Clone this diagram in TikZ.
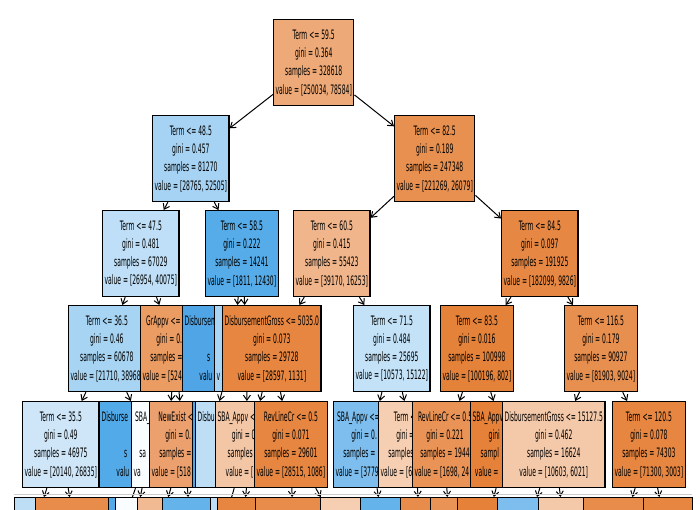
\documentclass[tikz,border=0pt]{standalone}
\usepackage{fontspec}
\newfontfamily\treefont[FakeStretch=0.465]{DejaVu Sans}
\usetikzlibrary{arrows.meta,backgrounds}

\definecolor{c595}{RGB}{237,169,119}
\definecolor{c485}{RGB}{166,211,243}
\definecolor{c825}{RGB}{232,144,80}
\definecolor{c475}{RGB}{190,223,247}
\definecolor{c585}{RGB}{86,171,233}
\definecolor{c605}{RGB}{240,181,139}
\definecolor{c845}{RGB}{230,136,68}
\definecolor{c365}{RGB}{167,212,243}
\definecolor{cgr}{RGB}{234,156,99}
\definecolor{cdis}{RGB}{80,165,230}
\definecolor{clb}{RGB}{170,213,244}
\definecolor{c5035}{RGB}{230,134,65}
\definecolor{c715}{RGB}{195,226,247}
\definecolor{c835}{RGB}{229,130,58}
\definecolor{c1165}{RGB}{231,143,79}
\definecolor{c355}{RGB}{206,230,248}
\definecolor{cdisb}{RGB}{83,170,232}
\definecolor{csba}{RGB}{250,253,255}
\definecolor{cnew}{RGB}{235,160,110}
\definecolor{cstrip}{RGB}{80,165,230}
\definecolor{cdisbu}{RGB}{190,222,246}
\definecolor{csbaa}{RGB}{243,198,166}
\definecolor{crev}{RGB}{230,134,65}
\definecolor{csbab}{RGB}{125,190,238}
\definecolor{cterm}{RGB}{246,207,178}
\definecolor{crevb}{RGB}{233,147,86}
\definecolor{csbac}{RGB}{229,129,57}
\definecolor{c15127}{RGB}{244,201,170}
\definecolor{c1205}{RGB}{230,134,65}
\definecolor{cleafo}{RGB}{231,140,75}
\definecolor{cleafp}{RGB}{241,186,146}
\definecolor{cleafb}{RGB}{100,180,235}
\definecolor{frame}{RGB}{205,205,205}

\begin{document}
\begin{tikzpicture}[x=1pt,y=-1pt,semithick]
  \tikzset{
    treenode/.style={draw=black, line width=1.2pt, anchor=north west, align=center,
      minimum height=86pt, inner xsep=2pt, inner ysep=0pt,
      font=\treefont\fontsize{13}{18.3}\selectfont},
    leafnode/.style={treenode, minimum width=#1},
    treearrow/.style={-{Straight Barb[length=5pt,width=7pt]}, line width=1pt}
  }
  \useasboundingbox (0,0) rectangle (700,510);

  % depth 0 and 1
  \node[treenode, fill=c595] (n595) at (273,19) {Term <= 59.5\\gini = 0.364\\samples = 328618\\value = [250034, 78584]};
  \node[treenode, fill=c485] (n485) at (152,115) {Term <= 48.5\\gini = 0.457\\samples = 81270\\value = [28765, 52505]};
  \node[treenode, fill=c825] (n825) at (394,115) {Term <= 82.5\\gini = 0.189\\samples = 247348\\value = [221269, 26079]};

  % depth 2
  \node[treenode, fill=c475] (n475) at (102,210) {Term <= 47.5\\gini = 0.481\\samples = 67029\\value = [26954, 40075]};
  \node[treenode, fill=c585] (n585) at (205,210) {Term <= 58.5\\gini = 0.222\\samples = 14241\\value = [1811, 12430]};
  \node[treenode, fill=c605] (n605) at (293,210) {Term <= 60.5\\gini = 0.415\\samples = 55423\\value = [39170, 16253]};
  \node[treenode, fill=c845] (n845) at (501,210) {Term <= 84.5\\gini = 0.097\\samples = 191925\\value = [182099, 9826]};

  % depth 3 (boxes overlap, later ones cover earlier ones)
  \node[treenode, fill=c365] (n365) at (68,305) {Term <= 36.5\\gini = 0.46\\samples = 60678\\value = [21710, 38968\phantom{]}};
  \node[treenode, fill=cgr] (ngr) at (140,305) {GrAppv <=\phantom{ 1234.5}\\gini = 0.\phantom{288}\\samples =\phantom{ 6351}\\value = [524\phantom{4, 1107]}};
  \node[treenode, fill=cdis] (ndis) at (182,305) {Disbursem\phantom{entGross <= 99999.5}\\\phantom{gini = 0.123}\\s\phantom{amples = 12345}\\valu\phantom{e = [1234, 12345]}};
  \node[treenode, fill=clb] (nlb) at (214,305) {\phantom{Term <= 99.5}\\\phantom{gini = 0.123}\\\phantom{samples = 1234}\\v\phantom{alue = [123, 1234]}};
  \node[treenode, fill=c5035] (n5035) at (222,305) {DisbursementGross <= 5035.0\\gini = 0.073\\samples = 29728\\value = [28597, 1131]};
  \node[treenode, fill=c715] (n715) at (353,305) {Term <= 71.5\\gini = 0.484\\samples = 25695\\value = [10573, 15122]};
  \node[treenode, fill=c835] (n835) at (440,305) {Term <= 83.5\\gini = 0.016\\samples = 100998\\value = [100196, 802]};
  \node[treenode, fill=c1165] (n1165) at (564,305) {Term <= 116.5\\gini = 0.179\\samples = 90927\\value = [81903, 9024]};

  % depth 4
  \node[treenode, fill=c355] (n355) at (22,401) {Term <= 35.5\\gini = 0.49\\samples = 46975\\value = [20140, 26835]};
  \node[treenode, fill=cdisb] (ndisb) at (99,401) {Disburse\phantom{mentGross <= 99999.5}\\\phantom{gini = 0.123}\\s\phantom{amples = 13703}\\valu\phantom{e = [1570, 12133]}};
  \node[treenode, fill=csba] (nsba) at (131,401) {SBA\_\phantom{Appv <= 9999.5}\\\phantom{gini = 0.123}\\sa\phantom{mples = 123456}\\va\phantom{lue = [1234, 12345]}};
  \node[treenode, fill=cnew] (nnew) at (149,401) {NewExist <\phantom{= 0.5}\\gini = 0.\phantom{123}\\samples =\phantom{ 1234}\\value = [518\phantom{3, 1234]}};
  \node[treenode, fill=cstrip, minimum width=30pt] (nstrip) at (192,401) {};
  \node[treenode, fill=cdisbu] (ndisbu) at (195,401) {Disbu\phantom{rsementGross <= 99999.5}\\\phantom{gini = 0.123}\\\phantom{samples = 12345}\\\phantom{value = [1234, 12345]}};
  \node[treenode, fill=csbaa] (nsbaa) at (215,401) {SBA\_Appv <\phantom{= 9999.5}\\gini = 0\phantom{.458}\\samples\phantom{ = 127}\\value = [\phantom{82, 45]}};
  \node[treenode, fill=crev] (nrev) at (254,401) {RevLineCr <= 0.5\\gini = 0.071\\samples = 29601\\value = [28515, 1086]};
  \node[treenode, fill=csbab] (nsbab) at (333,401) {SBA\_Appv <=\phantom{ 9999.5}\\gini = 0.\phantom{123}\\samples =\phantom{ 12345}\\value = [3779\phantom{, 12345]}};
  \node[treenode, fill=cterm] (nterm) at (378,401) {Term <\phantom{= 12.5}\\gini =\phantom{ 0.123}\\samples\phantom{ = 12345}\\value = [6\phantom{794, 12345]}};
  \node[treenode, fill=crevb] (nrevb) at (412,401) {RevLineCr <= 0.5\\gini = 0.221\\samples = 1944\\value = [1698, 24\phantom{6]}};
  \node[treenode, fill=csbac] (nsbac) at (470,401) {SBA\_Appv\phantom{ <= 99999.5}\\gini\phantom{ = 0.011}\\sampl\phantom{es = 99054}\\value =\phantom{ [98498, 556]}};
  \node[treenode, fill=c15127] (n15127) at (502,401) {DisbursementGross <= 15127.5\\gini = 0.462\\samples = 16624\\value = [10603, 6021]};
  \node[treenode, fill=c1205] (n1205) at (612,401) {Term <= 120.5\\gini = 0.078\\samples = 74303\\value = [71300, 3003]};

  % depth 5, only the tops show
  \draw[frame, line width=1pt] (14,494) -- (692,494);
  \node[leafnode=31pt, fill=cdisbu] (m1) at (14,497) {};
  \node[leafnode=83pt, fill=cleafo] (m2) at (35,497) {};
  \node[leafnode=17pt, fill=cdisb] (m3) at (108,497) {};
  \node[leafnode=32pt, fill=csba] (m4) at (115,497) {};
  \node[leafnode=35pt, fill=cleafp] (m5) at (137,497) {};
  \node[leafnode=58pt, fill=cleafb] (m6) at (162,497) {};
  \node[leafnode=17pt, fill=cdisbu] (m7) at (210,497) {};
  \node[leafnode=48pt, fill=crev] (m8) at (217,497) {};
  \node[leafnode=75pt, fill=cleafo] (m9) at (255,497) {};
  \node[leafnode=50pt, fill=cterm] (m10) at (320,497) {};
  \node[leafnode=50pt, fill=cleafb] (m11) at (360,497) {};
  \node[leafnode=40pt, fill=cleafo] (m12) at (400,497) {};
  \node[leafnode=37pt, fill=crevb] (m13) at (430,497) {};
  \node[leafnode=50pt, fill=csbac] (m14) at (457,497) {};
  \node[leafnode=51pt, fill=csbab] (m15) at (497,497) {};
  \node[leafnode=55pt, fill=c15127] (m16) at (538,497) {};
  \node[leafnode=70pt, fill=cleafo] (m17) at (583,497) {};
  \node[leafnode=49pt, fill=c1205] (m18) at (643,497) {};

  \begin{scope}[on background layer]
  \path[treearrow]
    (n595) edge (n485) edge (n825)
    (n485) edge (n475) edge (n585)
    (n825) edge (n605) edge (n845)
    (n475) edge (n365) edge (ngr)
    (n585) edge (ndis) edge (nlb)
    (n605) edge (n5035) edge (n715)
    (n845) edge (n835) edge (n1165)
    (n365) edge (n355) edge (ndisb)
    (ngr) edge (nsba) edge (nnew)
    (ndis) edge (nstrip)
    (nlb) edge (ndisbu)
    (n5035) edge (nsbaa) edge (nrev)
    (n715) edge (nsbab) edge (nterm)
    (n835) edge (nrevb) edge (nsbac)
    (n1165) edge (n15127) edge (n1205)
    (n355) edge (m1) edge (m2)
    (ndisb) edge (m3) edge (m4)
    (nnew) edge (m5) edge (m6)
    (ndisbu) edge (m7)
    (nsbaa) edge (m8)
    (nrev) edge (m9) edge (m10)
    (nsbab) edge (m11)
    (nterm) edge (m12)
    (nrevb) edge (m13)
    (nsbac) edge (m14)
    (n15127) edge (m15) edge (m16)
    (n1205) edge (m17) edge (m18);
  \end{scope}
\end{tikzpicture}
\end{document}
